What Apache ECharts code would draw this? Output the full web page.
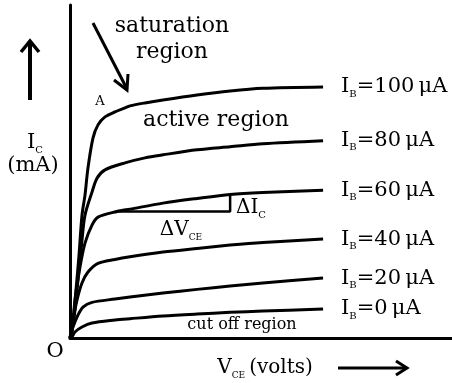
<!DOCTYPE html>
<html><head><meta charset="utf-8">
<script src="https://cdn.jsdelivr.net/npm/echarts@6/dist/echarts.min.js"></script>
<style>html,body{margin:0;padding:0;background:#fff}#c{width:452px;height:383px}</style>
</head><body><div id="c"></div>
<script>
// V_CE (arbitrary volts) and I_C (arbitrary mA)
const ib100V = [0, 0.094, 0.188, 0.283, 0.377, 0.471, 0.565, 0.723, 0.88, 1.10, 1.414, 1.728, 1.885, 2.356, 2.92, 3.99, 5.03, 6.06, 7.95];
const ib100I = [0, 0.48, 1.44, 2.49, 3.69, 4.29, 5.11, 6.01, 6.40, 6.64, 6.79, 6.91, 6.97, 7.06, 7.15, 7.30, 7.42, 7.50, 7.54];
const ib80V = [0, 0.126, 0.251, 0.377, 0.471, 0.691, 0.848, 1.10, 1.728, 2.356, 2.92, 3.99, 5.03, 6.06, 7.95];
const ib80I = [0, 0.60, 1.74, 2.94, 3.69, 4.38, 4.80, 5.05, 5.26, 5.41, 5.50, 5.65, 5.74, 5.83, 5.92];
const ib60V = [0, 0.063, 0.157, 0.314, 0.471, 0.691, 0.88, 1.476, 1.885, 2.92, 3.99, 5.03, 6.06, 7.95];
const ib60I = [0, 0.15, 1.14, 2.13, 2.85, 3.39, 3.63, 3.80, 3.87, 4.05, 4.19, 4.31, 4.37, 4.44];
const ib40V = [0, 0.094, 0.22, 0.377, 0.565, 0.88, 1.414, 1.885, 2.92, 3.99, 5.03, 6.06, 7.95];
const ib40I = [0, 0.54, 1.14, 1.65, 1.98, 2.24, 2.36, 2.44, 2.58, 2.69, 2.79, 2.87, 2.97];
const ib20V = [0, 0.094, 0.251, 0.408, 0.691, 1.414, 1.885, 2.92, 3.99, 5.03, 6.06, 7.95];
const ib20I = [0, 0.33, 0.69, 0.93, 1.07, 1.17, 1.23, 1.35, 1.46, 1.56, 1.65, 1.80];
const ib0V = [0, 0.063, 0.157, 0.377, 0.691, 1.414, 1.885, 2.92, 3.99, 5.03, 6.06, 7.95];
const ib0I = [0, 0.03, 0.18, 0.33, 0.45, 0.54, 0.58, 0.66, 0.72, 0.77, 0.81, 0.87];
const ibValues = ['100', '80', '60', '40', '20', '0'];
// slope triangle on the 60 µA curve
const triV = [1.476, 5.03, 5.03];
const triI = [3.80, 3.80, 4.31];

const FONT = 'DejaVu Serif';
const rich = {
  n: { fontFamily: FONT, fontSize: 21, color: '#000', lineHeight: 24 },
  m: { fontFamily: FONT, fontSize: 20, color: '#000', lineHeight: 24 },
  s: { fontFamily: FONT, fontSize: 10, color: '#000', lineHeight: 12, verticalAlign: 'bottom' },
  sc: { fontFamily: FONT, fontSize: 9, color: '#000', lineHeight: 12, verticalAlign: 'bottom' }
};
const zip = (a, b) => a.map((v, i) => [v, b[i]]);
const curves = [[ib100V, ib100I], [ib80V, ib80I], [ib60V, ib60I], [ib40V, ib40I], [ib20V, ib20I], [ib0V, ib0I]];

const series = curves.map((c, k) => ({
  type: 'line', data: zip(c[0], c[1]), smooth: 0.3, symbol: 'none',
  lineStyle: { color: '#000', width: 3 },
  endLabel: { show: true, distance: 18, formatter: '{n|I}{s|B}{n|=' + ibValues[k] + '\u2009\u03bcA}', rich: rich }
}));
series.push({ type: 'line', data: zip(triV, triI), symbol: 'none', lineStyle: { color: '#000', width: 2.5 } });

const chart = echarts.init(document.getElementById('c'));
function txt(x, y, text, size, align) {
  return { type: 'text', x: x, y: y, style: { text: text, fontFamily: FONT, fontSize: size, fill: '#000', align: align || 'center', verticalAlign: 'middle' } };
}
function rtxt(x, y, text) {
  return { type: 'text', x: x, y: y, style: { text: text, rich: rich, align: 'center', verticalAlign: 'middle' } };
}
chart.setOption({
  animation: false,
  grid: { left: 70, right: 0, top: 5, bottom: 45 },
  xAxis: { type: 'value', min: 0, max: 12, axisLine: { lineStyle: { color: '#000', width: 3 } }, axisTick: { show: false }, axisLabel: { show: false }, splitLine: { show: false } },
  yAxis: { type: 'value', min: 0, max: 10, axisLine: { show: true, lineStyle: { color: '#000', width: 3 } }, axisTick: { show: false }, axisLabel: { show: false }, splitLine: { show: false } },
  series: series,
  graphic: [
    txt(172, 26, 'saturation', 22),
    txt(172, 52, 'region', 22),
    txt(216, 120, 'active region', 22),
    txt(100, 102, 'A', 13),
    txt(242, 325, 'cut off region', 16),
    txt(55, 352, 'O', 21),
    rtxt(35, 143, '{n|I}{s|C}'),
    txt(33, 166, '(mA)', 21),
    rtxt(265, 368, '{m|V}{sc|CE}{m|\u2009(volts)}'),
    rtxt(181, 230, '{m|\u0394V}{sc|CE}'),
    rtxt(251, 208, '{m|\u0394I}{s|C}'),
    // arrows
    { type: 'line', shape: { x1: 30, y1: 100, x2: 30, y2: 42 }, style: { stroke: '#000', lineWidth: 4 } },
    { type: 'polyline', shape: { points: [[21, 52], [30, 41], [39, 52]] }, style: { stroke: '#000', lineWidth: 3.5, fill: null } },
    { type: 'line', shape: { x1: 93, y1: 23, x2: 127, y2: 89 }, style: { stroke: '#000', lineWidth: 3 } },
    { type: 'polyline', shape: { points: [[114, 80], [127, 90], [128, 74]] }, style: { stroke: '#000', lineWidth: 3, fill: null } },
    { type: 'line', shape: { x1: 338, y1: 368, x2: 406, y2: 368 }, style: { stroke: '#000', lineWidth: 3 } },
    { type: 'polyline', shape: { points: [[396, 361], [407, 368], [396, 375]] }, style: { stroke: '#000', lineWidth: 3, fill: null } }
  ]
});
</script></body></html>
